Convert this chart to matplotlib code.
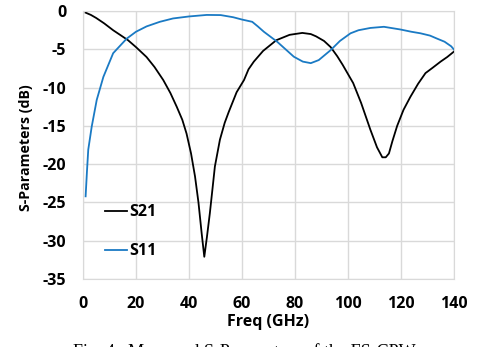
import matplotlib
matplotlib.use('Agg')
import matplotlib.pyplot as plt

# measured S21 (black)
f_s21 = [1, 3, 5, 8, 11.4, 14, 17, 20, 24, 27, 30.3, 33, 35.4, 37.5, 39.1, 40.8, 42.3, 43.6, 44.8, 45.8,
         46.8, 47.9, 48.9, 49.8, 51.7, 53.5, 55, 58, 60.8, 62.5, 64.5, 68, 73, 78, 82.8, 86, 88, 91, 93.5,
         96, 98, 102, 105, 108.5, 111, 113, 114.3, 115.5, 116.8, 118.6, 121, 123.6, 126.5, 129.3, 132,
         135, 137.5, 140]
s21 = [-0.2, -0.5, -0.9, -1.6, -2.5, -3.1, -3.8, -4.7, -6.0, -7.3, -9.0, -10.7, -12.5, -14.2, -16, -18.6,
       -21.6, -25.0, -29, -32.1, -29.5, -26.4, -23.2, -20.3, -16.8, -14.6, -13.2, -10.6, -9.0, -7.6, -6.6,
       -5.2, -3.8, -3.1, -2.85, -3.0, -3.3, -3.9, -4.7, -5.9, -7.0, -9.4, -12.0, -15.5, -17.8, -19.1, -19.1,
       -18.6, -17.0, -15.0, -12.9, -11.2, -9.5, -8.1, -7.4, -6.6, -6.0, -5.3]

# measured S11 (blue)
f_s11 = [1, 1.5, 2, 3.3, 5.2, 7.7, 11.4, 16.5, 20, 24, 29, 34, 40, 46.7, 52, 56.7, 60, 63.9, 66, 68.3,
         73.3, 79.6, 83, 86, 89, 93.5, 97, 101, 104, 108.5, 113.6, 119.8, 124, 127.4, 131, 133.7, 136.5,
         139, 140]
s11 = [-24.2, -21, -18.1, -15.1, -11.6, -8.6, -5.5, -3.6, -2.7, -2.0, -1.4, -0.96, -0.7, -0.5, -0.52,
       -0.8, -1.1, -1.4, -2.0, -2.7, -4.0, -5.96, -6.6, -6.8, -6.4, -5.1, -3.9, -2.9, -2.5, -2.2, -2.05,
       -2.4, -2.7, -2.9, -3.2, -3.6, -4.0, -4.6, -5.0]

xticks = [0, 20, 40, 60, 80, 100, 120, 140]
yticks = [0, -5, -10, -15, -20, -25, -30, -35]

plt.rcParams['font.family'] = ['Open Sans', 'DejaVu Sans']
plt.rcParams['axes.unicode_minus'] = False

fig = plt.figure(figsize=(4.88, 3.47), dpi=100)
ax = fig.add_axes([0.170, 0.196, 0.760, 0.772])

ax.plot(f_s21, s21, color='black', lw=1.3, label='S21')
ax.plot(f_s11, s11, color='#1a7ac4', lw=1.3, label='S11')

ax.set_xlim(0, 140)
ax.set_ylim(-35, 0)
ax.set_xticks(xticks)
ax.set_yticks(yticks)
ax.grid(True, color='#d9d9d9', lw=1)
ax.set_axisbelow(True)
for s in ax.spines.values():
    s.set_color('#d9d9d9')
ax.tick_params(length=0, labelsize=11.5, pad=12)
for t in ax.get_xticklabels() + ax.get_yticklabels():
    t.set_fontweight('bold')

ax.set_xlabel('Freq (GHz)', fontsize=11.5, fontweight='bold', labelpad=2)
ax.set_ylabel('S-Parameters (dB)', fontsize=10.2, fontweight='bold')
ax.yaxis.set_label_coords(-0.135, 0.49)

ax.legend(loc='lower left', bbox_to_anchor=(0.02, 0.02), frameon=False,
          prop={'weight': 'bold', 'size': 11.5}, handlelength=1.4, handletextpad=0.15,
          labelspacing=1.45)

fig.text(0.5, 1 - 343 / 347, 'Fig. 4.  Measured S-Parameters of the FS-CPW', ha='center', va='top',
         family='Liberation Serif', fontsize=13)

fig.savefig('out.png', dpi=100)
